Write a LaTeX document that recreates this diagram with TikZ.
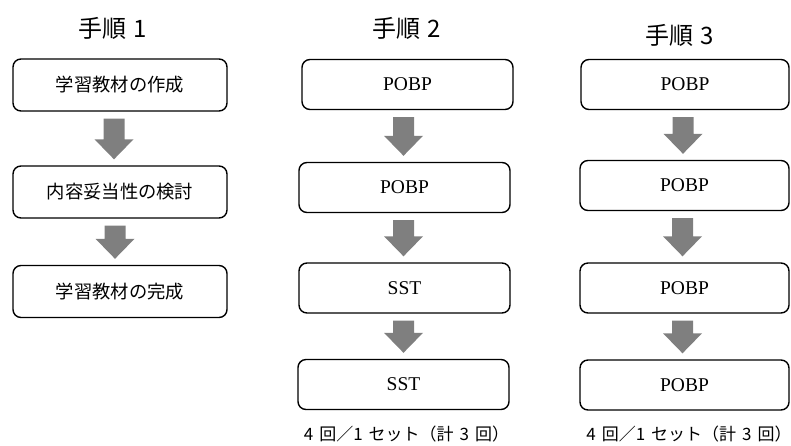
\documentclass[tikz,border=0pt]{standalone}
\usepackage{fontspec}
\setmainfont{Liberation Serif}
\newfontfamily\jp{Noto Sans CJK JP}
\usetikzlibrary{calc}
\definecolor{arrowgray}{HTML}{7F7F7F}
\newcommand\hsp{\kern.35em}
\tikzset{
  box/.style={draw=black, line width=1.4pt, rounded corners=8pt, fill=white,
    minimum height=50pt, inner sep=0pt, anchor=center},
  boxa/.style={box, minimum width=214pt, minimum height=52pt, font=\jp\fontsize{18.3}{18}\selectfont},
  boxb/.style={box, minimum width=211pt, font=\fontsize{19.5}{20}\selectfont},
  title/.style={font=\jp\fontsize{24}{24}\selectfont, inner sep=0pt},
  foot/.style={font=\jp\fontsize{17}{17}\selectfont, inner sep=0pt},
}
\newcommand\blockarrow[3]{%
  \fill[arrowgray] let \p1=($(#1.south)+(#3,-7pt)$), \p2=($(#2.north)+(#3,6pt)$) in
    (\x1-10.5pt,\y1) -- (\x1+10.5pt,\y1) -- (\x1+10.5pt,\y2+20pt) -- (\x1+19.5pt,\y2+20pt)
    -- (\x1,\y2) -- (\x1-19.5pt,\y2+20pt) -- (\x1-10.5pt,\y2+20pt) -- cycle;}
\begin{document}
\begin{tikzpicture}[x=1pt,y=-1pt]
\useasboundingbox (0,0) rectangle (791,445);
% column 1
\node[title] (t1) at (113,28) {手順\kern.28em 1};
\node[boxa] (a1) at (120,85) {学習教材の作成};
\node[boxa] (a2) at (120,192) {内容妥当性の検討};
\node[boxa] (a3) at (120,291.5) {学習教材の完成};
\blockarrow{a1}{a2}{-6pt}
\blockarrow{a2}{a3}{-5pt}
% column 2
\node[title] (t2) at (407,28) {手順\kern.28em 2};
\node[boxb] (b1) at (407.5,84.5) {POBP};
\node[boxb] (b2) at (404.5,187.5) {POBP};
\node[boxb] (b3) at (404.5,288) {SST};
\node[boxb] (b4) at (403.5,384.5) {SST};
\blockarrow{b1}{b2}{-4pt}
\blockarrow{b2}{b3}{-1pt}
\blockarrow{b3}{b4}{-1pt}
\node[foot] (f2) at (406.5,434) {4\hsp 回／1\hsp セット（計\hsp 3\hsp 回）};
% column 3
\node[title] (t3) at (680,35) {手順\kern.28em 3};
\node[boxb, minimum width=208pt] (c1) at (685,84.5) {POBP};
\node[boxb, minimum width=209pt] (c2) at (684.5,185.5) {POBP};
\node[boxb, minimum width=209pt] (c3) at (684.5,288) {POBP};
\node[boxb, minimum width=209pt] (c4) at (684.5,385) {POBP};
\blockarrow{c1}{c2}{-2pt}
\blockarrow{c2}{c3}{-2pt}
\blockarrow{c3}{c4}{-2pt}
\node[foot] (f3) at (689,434) {4\hsp 回／1\hsp セット（計\hsp 3\hsp 回）};
\end{tikzpicture}
\end{document}
